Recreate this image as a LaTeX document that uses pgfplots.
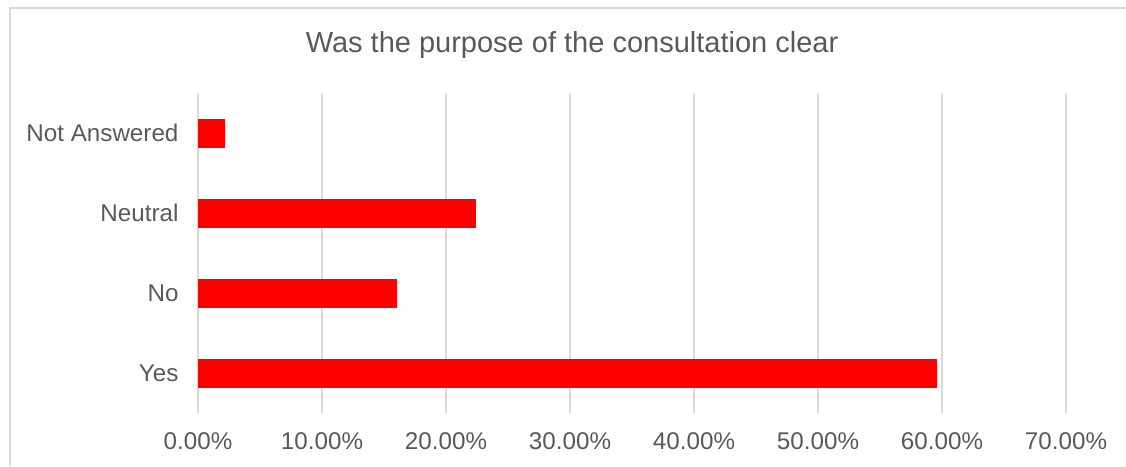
\documentclass[border=0pt]{standalone}
\usepackage{pgfplots}
\pgfplotsset{compat=1.18}
\usepackage{fontspec}
\setmainfont{Liberation Sans}
\definecolor{txt}{HTML}{595959}
\definecolor{gridc}{HTML}{D9D9D9}
\definecolor{framec}{HTML}{D9D9D9}
\begin{document}
\begin{tikzpicture}[x=1pt,y=1pt]
\useasboundingbox (0,0) rectangle (1126,466);
\draw[framec, line width=1.2pt] (10,0) -- (10,458) -- (1126,458);
\node[txt, font=\fontsize{29}{34}\selectfont] at (572,421) {Was the purpose of the consultation clear};
\begin{axis}[
  at={(198pt,53pt)}, anchor=south west,
  scale only axis, width=868pt, height=320pt,
  xbar, bar width=28pt,
  xmin=0, xmax=70, ymin=-0.5, ymax=3.5,
  xtick={0,10,20,30,40,50,60,70},
  xticklabels={0.00\%,10.00\%,20.00\%,30.00\%,40.00\%,50.00\%,60.00\%,70.00\%},
  ytick={0,1,2,3},
  yticklabels={Yes,No,Neutral,Not Answered},
  xmajorgrids=true, ymajorgrids=false,
  major grid style={draw=gridc, line width=1.5pt},
  axis line style={draw=none},
  major tick length=0pt,
  tick label style={txt, font=\fontsize{24.2}{28}\selectfont},
  xticklabel style={yshift=-16pt},
  yticklabel style={xshift=-16pt},
]
\addplot[fill=red, draw=red] coordinates {(59.55,0) (15.95,1) (22.35,2) (2.1,3)};
\end{axis}
\end{tikzpicture}
\end{document}
